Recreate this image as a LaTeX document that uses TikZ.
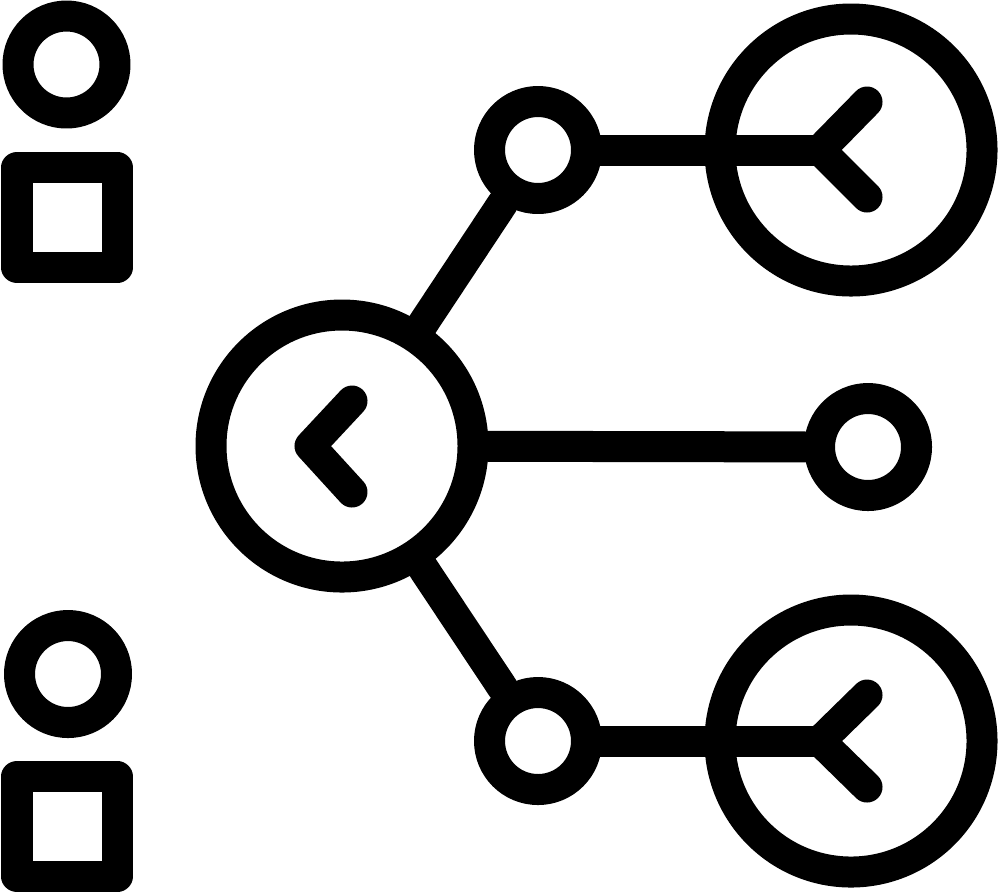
\documentclass[tikz,border=0pt]{standalone}
\begin{document}
\begin{tikzpicture}[line width=3.1mm, line cap=round, line join=round,
	big/.style = {draw, circle, minimum size=26.2mm, inner sep=0pt},
	small/.style = {draw, circle, minimum size=9.7mm, inner sep=0pt},
	box/.style = {draw, rectangle, minimum size=10mm, inner sep=0pt}]
				\useasboundingbox (0,0) rectangle (10,-8.91);

				\node[small] (0) at (0.665,-0.645) {};
				\node[box] (1) at (0.67,-2.175) {};
				\node[small] (2) at (0.68,-6.74) {};
				\node[box] (3) at (0.67,-8.265) {};

				\node[big] (4) at (3.42,-4.46) {};
				\node[small] (5) at (5.38,-1.50) {};
				\node[small] (6) at (8.68,-4.47) {};
				\node[small] (7) at (5.38,-7.41) {};

				\node[big] (8) at (8.51,-1.50) {};
				\node[big] (9) at (8.51,-7.41) {};

				\coordinate (a) at (8.20,-1.50);
				\coordinate (a1) at (8.67,-1.02);
				\coordinate (a2) at (8.67,-1.97);

				\coordinate (b) at (8.20,-7.41);
				\coordinate (b1) at (8.67,-6.95);
				\coordinate (b2) at (8.67,-7.87);

				\coordinate (c) at (3.10,-4.46);
				\coordinate (c1) at (3.52,-4.01);
				\coordinate (c2) at (3.52,-4.92);

				\draw (4) -- (5);
				\draw (4) -- (6);
				\draw (4) -- (7);

				\draw (5) -- (a);
				\draw (7) -- (b);

				\draw (a1) -- (a) -- (a2);
				\draw (b1) -- (b) -- (b2);
				\draw (c1) -- (c) -- (c2);

			\end{tikzpicture}
\end{document}
